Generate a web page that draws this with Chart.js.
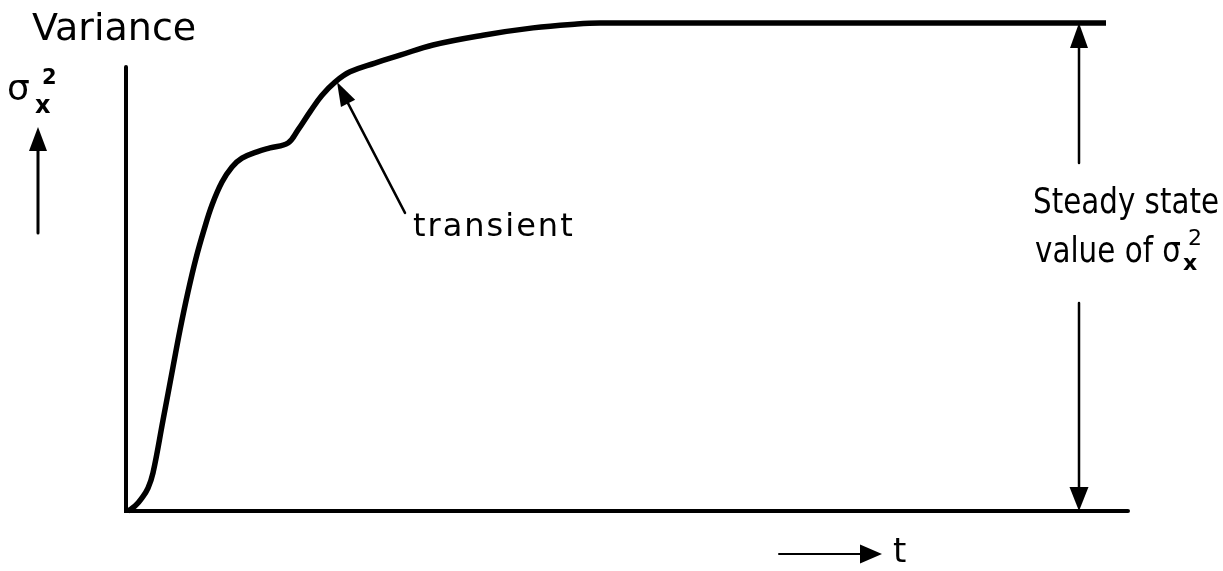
<!DOCTYPE html>
<html>
<head>
<meta charset="utf-8">
<script src="https://cdn.jsdelivr.net/npm/chart.js@4.4.1/dist/chart.umd.min.js"></script>
<style>
    body { margin: 0; background: #fff; }
    canvas { display: block; }
</style>
</head>
<body>
<canvas id="varianceChart" width="1223" height="571"></canvas>
<script>
// time (0..100) and variance (0..100, 100 = steady state)
const timeValues = [0, 0.7, 1.4, 2.0, 2.5, 3.5, 4.5, 5.2, 6.0, 6.8, 7.6, 8.4, 9.4, 10.4, 11.4, 12.9, 14.2, 16.0, 17.0, 18.2, 19.4, 20.7, 22.2, 24.7, 27.2, 30.5, 35.5, 40.5, 44.9, 47.2, 97.8];
const varianceValues = [0, 1.0, 2.7, 4.7, 7.8, 18.6, 29.5, 37.1, 44.9, 51.8, 57.6, 62.7, 67.4, 70.5, 72.3, 73.6, 74.4, 75.4, 78.1, 81.8, 85.2, 87.9, 90.0, 91.8, 93.4, 95.5, 97.5, 99.0, 99.8, 100, 100];
const steadyStateValue = 100;
const yAxisTop = 91;

const FONT = "'DejaVu Sans', sans-serif";

// Draw a line with a filled arrow head at (x2, y2)
function drawArrow(ctx, x1, y1, x2, y2, width, headLen, headWidth) {
    const ang = Math.atan2(y2 - y1, x2 - x1);
    const bx = x2 - headLen * Math.cos(ang);
    const by = y2 - headLen * Math.sin(ang);
    ctx.beginPath();
    ctx.lineWidth = width;
    ctx.moveTo(x1, y1);
    ctx.lineTo(bx, by);
    ctx.stroke();
    ctx.beginPath();
    ctx.moveTo(x2, y2);
    ctx.lineTo(bx + (headWidth / 2) * Math.sin(ang), by - (headWidth / 2) * Math.cos(ang));
    ctx.lineTo(bx - (headWidth / 2) * Math.sin(ang), by + (headWidth / 2) * Math.cos(ang));
    ctx.closePath();
    ctx.fill();
}

const sketchPlugin = {
    id: "sketch",
    afterDatasetsDraw(chart) {
        const ctx = chart.ctx;
        const xs = chart.scales.x;
        const ys = chart.scales.y;
        const px = (t) => xs.getPixelForValue(t);
        const py = (v) => ys.getPixelForValue(v);

        ctx.save();
        ctx.strokeStyle = "#000";
        ctx.fillStyle = "#000";
        ctx.lineCap = "round";

        // axes
        ctx.lineWidth = 4;
        ctx.beginPath();
        ctx.moveTo(px(-0.2), py(yAxisTop));
        ctx.lineTo(px(-0.2), py(0));
        ctx.lineTo(px(100), py(0));
        ctx.stroke();

        // steady state double arrow
        drawArrow(ctx, px(95.1), py(71.3), px(95.1), py(steadyStateValue), 2.5, 25, 18);
        drawArrow(ctx, px(95.1), py(42.6), px(95.1), py(0), 2.5, 24, 19);

        // transient pointer
        drawArrow(ctx, px(27.7), py(61.1), px(20.9), py(87.9), 2.5, 24, 16);

        // time arrow
        drawArrow(ctx, px(65.1), py(-8.8), px(75.4), py(-8.8), 2, 22, 19);

        ctx.textBaseline = "alphabetic";
        ctx.textAlign = "left";

        ctx.font = "32px " + FONT;
        ctx.letterSpacing = "2px";
        ctx.fillText("transient", px(28.5), py(56.4));
        ctx.letterSpacing = "0px";

        ctx.font = "34px " + FONT;
        ctx.fillText("t", px(76.5), py(-10.5));

        // steady state label
        ctx.font = "36px " + FONT;
        ctx.fillText("Steady state", px(90.5), py(61.1), 186);
        ctx.fillText("value of σ", px(90.7), py(51.0), 146);
        ctx.font = "bold 22px " + FONT;
        ctx.fillText("x", px(105.5), py(49.4));
        ctx.font = "22px " + FONT;
        ctx.fillText("2", px(106.0), py(54.5));

        // y-axis title (left of plot)
        ctx.font = "38px " + FONT;
        ctx.fillText("Variance", 32, 40);
        ctx.font = "36px " + FONT;
        ctx.fillText("σ", 7, 100);
        ctx.font = "bold 24px " + FONT;
        ctx.fillText("x", 35, 113);
        ctx.font = "bold 21px " + FONT;
        ctx.fillText("2", 42, 84);
        drawArrow(ctx, 38, 233, 38, 127, 3, 24, 18);

        ctx.restore();
    },
};

const ctx = document.getElementById("varianceChart").getContext("2d");

const varianceChart = new Chart(ctx, {
    type: "line",
    data: {
        datasets: [
            {
                data: timeValues.map((t, i) => ({ x: t, y: varianceValues[i] })),
                borderColor: "#000",
                borderWidth: 5.5,
                borderJoinStyle: "round",
                pointRadius: 0,
                fill: false,
                tension: 0.4,
                clip: false,
            },
        ],
    },
    options: {
        responsive: false,
        animation: false,
        layout: {
            padding: { left: 128, right: 95, top: 23, bottom: 60 },
        },
        scales: {
            x: { type: "linear", min: 0, max: 100, display: false },
            y: { min: 0, max: 100, display: false },
        },
        plugins: {
            legend: { display: false },
            tooltip: { enabled: false },
        },
    },
    plugins: [sketchPlugin],
});
</script>
</body>
</html>
